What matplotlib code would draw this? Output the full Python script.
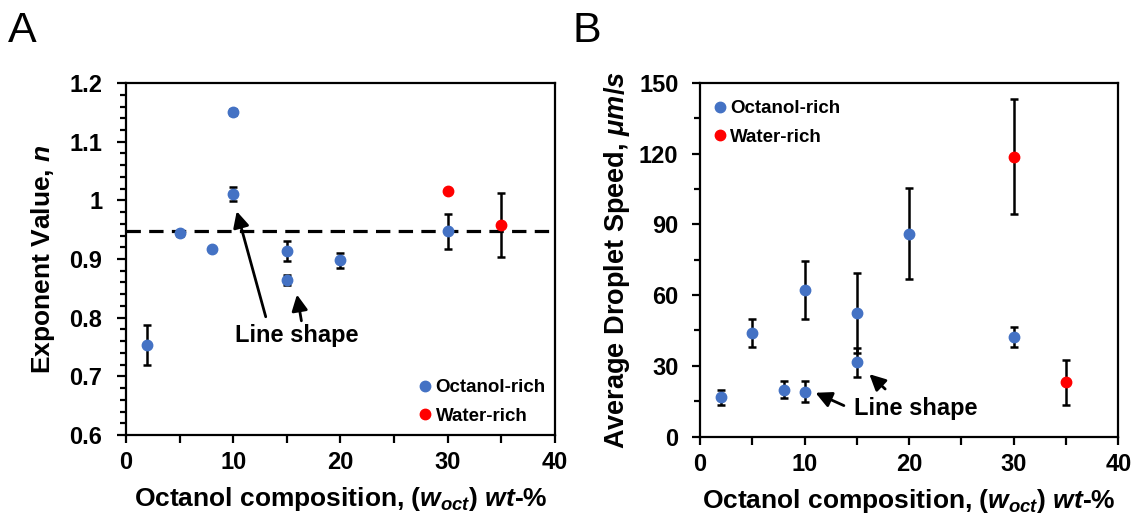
import matplotlib
matplotlib.use("Agg")
import matplotlib.pyplot as plt
from matplotlib.ticker import MultipleLocator

plt.rcParams['font.family'] = ['Liberation Sans', 'DejaVu Sans']
plt.rcParams['font.weight'] = 'bold'
plt.rcParams['mathtext.fontset'] = 'custom'
plt.rcParams['mathtext.rm'] = 'Liberation Sans:bold'
plt.rcParams['mathtext.it'] = 'Liberation Sans:italic:bold'
plt.rcParams['mathtext.bf'] = 'Liberation Sans:bold'

BLUE = '#4472c4'
RED = '#ff0000'

# panel A: exponent value n
a_oct_x = [2, 5, 8, 10, 10, 15, 15, 20, 30]
a_oct_y = [0.753, 0.944, 0.917, 1.151, 1.011, 0.914, 0.864, 0.898, 0.947]
a_oct_err = [0.034, 0.004, 0.003, 0.005, 0.012, 0.017, 0.009, 0.013, 0.030]
a_wat_x = [30, 35]
a_wat_y = [1.016, 0.958]
a_wat_err = [0.004, 0.054]
a_ref = 0.947
a_yticks = [0.6, 0.7, 0.8, 0.9, 1.0, 1.1, 1.2]
a_yticklabels = ['0.6', '0.7', '0.8', '0.9', '1', '1.1', '1.2']

# panel B: average droplet speed (um/s)
b_oct_x = [2, 5, 8, 10, 10, 15, 15, 20, 30]
b_oct_y = [16.7, 44.0, 19.9, 19.1, 62.2, 52.5, 31.6, 86.0, 42.1]
b_oct_err = [3.1, 5.9, 3.7, 4.4, 12.3, 17.0, 6.1, 19.3, 4.2]
b_wat_x = [30, 35]
b_wat_y = [118.6, 23.0]
b_wat_err = [24.4, 9.6]

xlabel = r'Octanol composition, ($w_{oct}$) $wt$-%'

fig = plt.figure(figsize=(11.41, 5.16), dpi=100)
axA = fig.add_axes([0.1104, 0.157, 0.376, 0.682])
axB = fig.add_axes([0.6135, 0.1537, 0.3666, 0.686])


def style(ax, ymaj=6, ymin=4, ypad=10):
    for s in ax.spines.values():
        s.set_linewidth(1.6)
    ax.tick_params(axis='both', which='major', direction='out', width=1.6, labelsize=17)
    ax.tick_params(axis='x', which='major', length=5.5, pad=6)
    ax.tick_params(axis='y', which='major', length=ymaj, pad=ypad)
    ax.tick_params(axis='x', which='minor', direction='out', length=5.5, width=1.6)
    ax.tick_params(axis='y', which='minor', direction='out', length=ymin, width=1.6)
    for lab in ax.get_xticklabels() + ax.get_yticklabels():
        lab.set_fontweight('bold')
    ax.set_xlim(0, 40)
    ax.xaxis.set_major_locator(MultipleLocator(10))
    ax.xaxis.set_minor_locator(MultipleLocator(5))
    ax.set_xlabel(xlabel, fontsize=19, fontweight='bold', labelpad=8)


def plot_points(ax, x, y, err, color):
    eb = ax.errorbar(x, y, yerr=err, fmt='o', color=color, ms=7.5, ecolor='black',
                     elinewidth=1.8, capsize=3, capthick=1.8, zorder=3)
    return eb.lines[0]


legend_kw = dict(frameon=False, fontsize=13.5, handletextpad=0.05, handlelength=1.0,
                 labelspacing=0.6, borderpad=0.2)
arrow = dict(arrowstyle='-|>', color='black', lw=2, mutation_scale=24)

# panel A
hA1 = plot_points(axA, a_oct_x, a_oct_y, a_oct_err, BLUE)
hA2 = plot_points(axA, a_wat_x, a_wat_y, a_wat_err, RED)
axA.axhline(a_ref, color='black', lw=2.3, ls=(0, (4.5, 2.6)), zorder=1)
axA.set_ylim(0.6, 1.2)
axA.set_yticks(a_yticks)
axA.set_yticklabels(a_yticklabels)
axA.yaxis.set_minor_locator(MultipleLocator(0.02))
axA.set_ylabel(r'Exponent Value, $n$', fontsize=19, fontweight='bold', labelpad=9)
style(axA, ymaj=6.5, ymin=4.3, ypad=10.5)
axA.annotate('', xy=(10.26, 0.986), xytext=(13.1, 0.797), arrowprops=arrow)
axA.annotate('', xy=(15.9, 0.844), xytext=(16.4, 0.790), arrowprops=arrow)
axA.text(15.9, 0.769, 'Line shape', fontsize=17, fontweight='bold', ha='center', va='center')
axA.legend([hA1, hA2], ['Octanol-rich', 'Water-rich'], loc='lower left',
           bbox_to_anchor=(0.645, -0.008), **legend_kw)

# panel B
hB1 = plot_points(axB, b_oct_x, b_oct_y, b_oct_err, BLUE)
hB2 = plot_points(axB, b_wat_x, b_wat_y, b_wat_err, RED)
axB.set_ylim(0, 150)
axB.yaxis.set_major_locator(MultipleLocator(30))
axB.yaxis.set_minor_locator(MultipleLocator(15))
axB.set_ylabel(r'Average Droplet Speed, $\mu m/s$', fontsize=19.5, fontweight='bold', labelpad=5)
style(axB, ymaj=5.5, ymin=4.5, ypad=10)
axB.annotate('', xy=(10.8, 19.1), xytext=(14.0, 12.7), arrowprops=arrow)
axB.annotate('', xy=(16.0, 27.3), xytext=(17.9, 19.4), arrowprops=arrow)
axB.text(20.6, 12.0, 'Line shape', fontsize=17, fontweight='bold', ha='center', va='center')
axB.legend([hB1, hB2], ['Octanol-rich', 'Water-rich'], loc='upper left',
           bbox_to_anchor=(-0.007, 0.988), **legend_kw)

fig.text(8 / 1141, 1 - 42 / 516, 'A', fontsize=31, fontweight='normal', ha='left', va='baseline')
fig.text(572 / 1141, 1 - 42 / 516, 'B', fontsize=31, fontweight='normal', ha='left', va='baseline')

fig.savefig('out.png', dpi=100)
